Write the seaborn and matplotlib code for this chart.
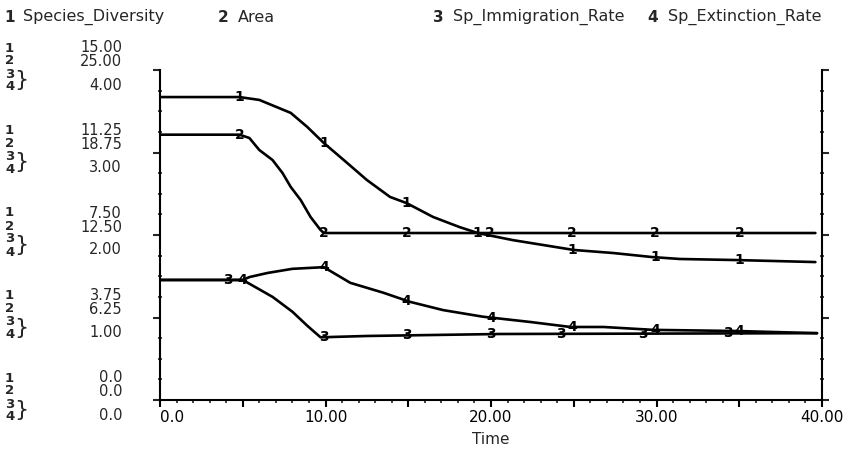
import numpy as np
import matplotlib
matplotlib.use("Agg")
import matplotlib.pyplot as plt
import seaborn as sns
from matplotlib.ticker import MultipleLocator

# ---------------- data ----------------
series_names = ["Species_Diversity", "Area", "Sp_Immigration_Rate", "Sp_Extinction_Rate"]

t1 = [0, 4.8, 6.0, 7.9, 8.9, 9.9, 11.1, 12.5, 13.9, 14.9, 16.5, 18.1, 19.2, 21.3, 25.0, 27.4, 29.7, 31.4, 34.9, 39.6]
v1 = [13.77, 13.77, 13.64, 13.05, 12.41, 11.68, 10.91, 10.0, 9.23, 8.95, 8.32, 7.86, 7.59, 7.27, 6.82, 6.68, 6.5, 6.41, 6.36, 6.27]

t2 = [0, 4.8, 5.4, 6.0, 6.8, 7.4, 7.9, 8.5, 9.1, 9.7, 9.9, 39.6]
v2 = [20.1, 20.1, 19.85, 18.94, 18.18, 17.2, 16.14, 15.15, 13.86, 12.88, 12.65, 12.65]

t3 = [0, 5.0, 6.8, 8.0, 8.9, 9.7, 12.5, 20.5, 39.7]
v3 = [1.455, 1.455, 1.25, 1.07, 0.90, 0.76, 0.776, 0.80, 0.81]

t4 = [0, 5.0, 5.4, 6.5, 8.0, 9.9, 11.5, 13.5, 15.1, 17.1, 19.5, 22.4, 24.8, 26.8, 29.8, 34.9, 39.7]
v4 = [1.455, 1.455, 1.49, 1.54, 1.59, 1.61, 1.42, 1.30, 1.19, 1.09, 1.01, 0.945, 0.885, 0.885, 0.85, 0.836, 0.81]

marks1 = [4.8, 9.9, 14.9, 19.2, 24.9, 29.9, 35.0]
marks2 = [4.8, 9.9, 14.9, 19.9, 24.9, 29.9, 35.0]
marks3 = [4.1, 9.9, 14.9, 20.0, 24.2, 29.2, 34.3]
marks4 = [5.0, 9.9, 14.9, 20.0, 24.9, 29.9, 35.0]

ymax = [15, 25, 4, 4]
labels1 = ["0.0", "3.75", "7.50", "11.25", "15.00"]
labels2 = ["0.0", "6.25", "12.50", "18.75", "25.00"]
labels34 = ["0.0", "1.00", "2.00", "3.00", "4.00"]

xticks = [0, 5, 10, 15, 20, 25, 30, 35, 40]
xticklabels = ["0.0", "", "10.00", "", "20.00", "", "30.00", "", "40.00"]

# ---------------- style ----------------
sns.set_theme(style="ticks")
plt.rcParams["font.family"] = ["DejaVu Sans"]
plt.rcParams["font.size"] = 11

W, H = 850, 451
fig = plt.figure(figsize=(W / 100, H / 100), dpi=100)
fig.patch.set_facecolor("white")
ax = fig.add_axes([160 / W, 51 / H, 662 / W, 330 / H])
ax.set_facecolor("white")
ax1 = ax.twinx()
ax2 = ax.twinx()
for a, top in ((ax1, ymax[0]), (ax2, ymax[1])):
    a.set_ylim(0, top)
    a.axis("off")
ax.set_xlim(0, 40)
ax.set_ylim(0, 4)

lw = 1.9
sns.lineplot(x=t1, y=v1, ax=ax1, color="black", lw=lw, estimator=None, sort=False)
sns.lineplot(x=t2, y=v2, ax=ax2, color="black", lw=lw, estimator=None, sort=False)
sns.lineplot(x=t3, y=v3, ax=ax, color="black", lw=lw, estimator=None, sort=False)
sns.lineplot(x=t4, y=v4, ax=ax, color="black", lw=lw, estimator=None, sort=False)

for a, ts, vs, marks, lab in ((ax1, t1, v1, marks1, "1"), (ax2, t2, v2, marks2, "2"),
                              (ax, t3, v3, marks3, "3"), (ax, t4, v4, marks4, "4")):
    for m in marks:
        a.text(m, np.interp(m, ts, vs), lab, ha="center", va="center",
               fontsize=10, fontweight="bold", color="black")

# spines / ticks
for s in ["left", "bottom", "right"]:
    ax.spines[s].set_visible(True)
    ax.spines[s].set_linewidth(1.5)
    ax.spines[s].set_color("black")
ax.spines["top"].set_visible(False)

ax.set_xticks(xticks)
ax.set_xticklabels(xticklabels)
ax.xaxis.set_minor_locator(MultipleLocator(1))
ax.set_yticks(range(5))
ax.set_yticklabels([])
ax.yaxis.set_minor_locator(MultipleLocator(0.25))
ax.tick_params(axis="x", which="major", direction="out", length=5, width=1.5, labelsize=11, pad=2, colors="black")
ax.tick_params(axis="x", which="minor", direction="out", length=2.5, width=1.2)
ax.tick_params(axis="y", which="major", direction="out", length=5, width=1.5, left=True, right=True)
ax.tick_params(axis="y", which="minor", direction="inout", length=3.5, width=1.2, left=True, right=True)
tl = ax.get_xticklabels()
tl[0].set_ha("left")
ax.set_xlabel("Time", fontsize=11, labelpad=5)
ax.set_ylabel("")

# custom left labels
px = 0.72  # points per pixel
coords = (fig.transFigure, ax.transData)
num_offsets = [22, 9, -4, -17]
for k in range(5):
    for n, dy in enumerate(num_offsets):
        ax.annotate(str(n + 1), xy=(5 / W, k), xycoords=coords, xytext=(0, dy * px), textcoords="offset points",
                    ha="left", va="center", fontsize=9.5, fontweight="bold", annotation_clip=False)
    ax.annotate("}", xy=(14 / W, k), xycoords=coords, xytext=(0, -10 * px), textcoords="offset points",
                ha="left", va="center", fontsize=16, annotation_clip=False)
    ax.annotate(labels1[k], xy=(122 / W, k), xycoords=coords, xytext=(0, 22 * px), textcoords="offset points",
                ha="right", va="center", fontsize=10.5, annotation_clip=False)
    ax.annotate(labels2[k], xy=(122 / W, k), xycoords=coords, xytext=(0, 8 * px), textcoords="offset points",
                ha="right", va="center", fontsize=10.5, annotation_clip=False)
    ax.annotate(labels34[k], xy=(122 / W, k), xycoords=coords, xytext=(0, -15 * px), textcoords="offset points",
                ha="right", va="center", fontsize=10.5, annotation_clip=False)

# header legend
hx = [(4, 23), (218, 238), (433, 453), (647, 668)]
for i, (nx, tx) in enumerate(hx):
    fig.text(nx / W, 1 - 17 / H, str(i + 1), ha="left", va="center", fontsize=11, fontweight="bold")
    fig.text(tx / W, 1 - 17 / H, series_names[i], ha="left", va="center", fontsize=11.5)

fig.savefig("out.png", dpi=100, facecolor="white")
